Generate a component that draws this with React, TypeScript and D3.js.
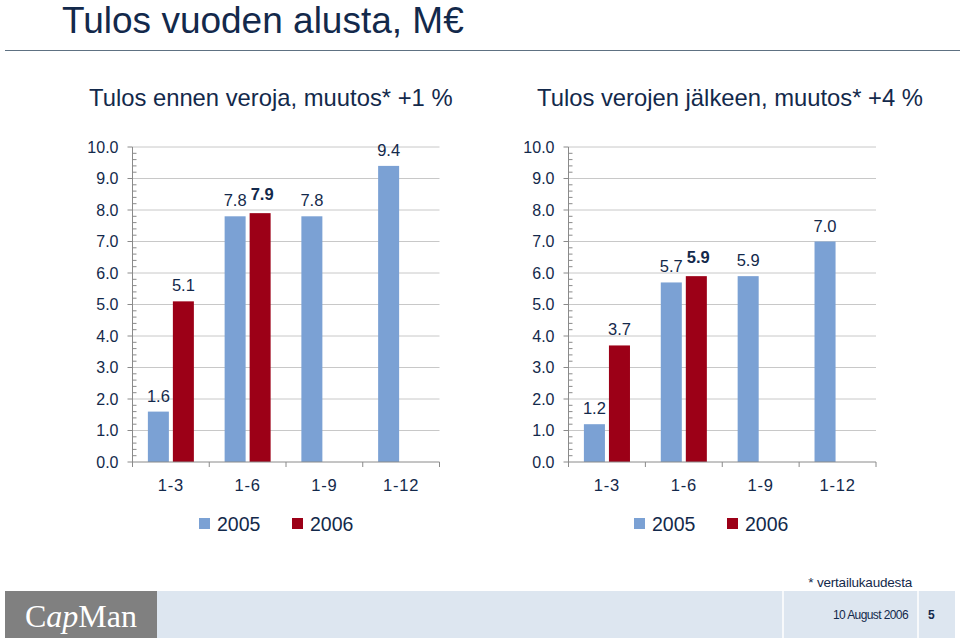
import React from "react";
import * as d3 from "d3";

const categories = ["1-3", "1-6", "1-9", "1-12"];
const seriesNames = ["2005", "2006"];
const leftValues2005 = [1.6, 7.8, 7.8, 9.4];
const leftValues2006: (number | null)[] = [5.1, 7.9, null, null];
const rightValues2005 = [1.2, 5.7, 5.9, 7.0];
const rightValues2006: (number | null)[] = [3.7, 5.9, null, null];
const boldLabelCategory = "1-6";
const yTicks = [0, 1, 2, 3, 4, 5, 6, 7, 8, 9, 10];
const titleText = "Tulos vuoden alusta, M€";
const leftSubtitle = "Tulos ennen veroja, muutos* +1 %";
const rightSubtitle = "Tulos verojen jälkeen, muutos* +4 %";

const FONT = "'Liberation Sans', Arial, Helvetica, sans-serif";
const NAVY = "#13294b";
const BLUE = "#7ba1d4";
const RED = "#9c0017";
const GRID = "#c8c8c8";
const AXIS = "#8a8a8a";

function Panel({ x0, x1, v2005, v2006 }: { x0: number; x1: number; v2005: (number | null)[]; v2006: (number | null)[] }) {
  const y = d3.scaleLinear().domain([0, 10]).range([462, 147]);
  const x = d3.scaleBand().domain(categories).range([x0, x1]).paddingInner(0).paddingOuter(0);
  const bw = x.bandwidth();
  const inner = d3.scaleBand().domain(seriesNames).range([0, bw]).paddingInner(0.16).paddingOuter(0.615);
  const minor = d3.range(0, 10.001, 0.2).filter((v) => Math.abs(v - Math.round(v)) > 1e-6);
  const series = [
    { name: "2005", values: v2005, color: BLUE },
    { name: "2006", values: v2006, color: RED },
  ];
  return (
    <g>
      {yTicks.filter((t) => t > 0).map((t) => (
        <line key={"g" + t} x1={x0} x2={x1} y1={y(t)} y2={y(t)} stroke={GRID} strokeWidth={1} />
      ))}
      {series.map((s) =>
        s.values.map((v, i) =>
          v == null ? null : (
            <rect key={s.name + i} x={(x(categories[i]) as number) + (inner(s.name) as number)} y={y(v)} width={inner.bandwidth()} height={y(0) - y(v)} fill={s.color} />
          )
        )
      )}
      <line x1={x0} x2={x0} y1={y(0)} y2={y(10)} stroke={AXIS} strokeWidth={1} />
      {yTicks.map((t) => (
        <g key={"t" + t}>
          <line x1={x0 - 5} x2={x0} y1={y(t)} y2={y(t)} stroke={AXIS} />
          <text x={x0 - 14} y={y(t)} dy="0.36em" textAnchor="end" fontSize={16} fill={NAVY} fontFamily={FONT}>
            {t.toFixed(1)}
          </text>
        </g>
      ))}
      {minor.map((t, i) => (
        <line key={"m" + i} x1={x0} x2={x0 + 4} y1={y(t)} y2={y(t)} stroke={AXIS} />
      ))}
      <line x1={x0} x2={x1} y1={y(0)} y2={y(0)} stroke={AXIS} />
      {[...categories.map((c) => x(c) as number), x1].map((px, i) => (
        <line key={"xt" + i} x1={px} x2={px} y1={y(0)} y2={y(0) + 5} stroke={AXIS} />
      ))}
      {categories.map((c) => (
        <text key={"xl" + c} x={(x(c) as number) + bw / 2} y={491} textAnchor="middle" fontSize={16.5} fill={NAVY} fontFamily={FONT} letterSpacing={0.8}>
          {c}
        </text>
      ))}
      {series.map((s) =>
        s.values.map((v, i) => {
          if (v == null) return null;
          const bold = s.name === "2006" && categories[i] === boldLabelCategory;
          return (
            <text key={"l" + s.name + i} x={(x(categories[i]) as number) + (inner(s.name) as number) + inner.bandwidth() / 2 + (bold ? 2 : 0)} y={y(v) - (bold ? 13 : 10)} textAnchor="middle" fontSize={16.5} fontWeight={bold ? "bold" : "normal"} fill={NAVY} fontFamily={FONT}>
              {v.toFixed(1)}
            </text>
          );
        })
      )}
    </g>
  );
}

function Legend({ x }: { x: number }) {
  const colors = [BLUE, RED];
  return (
    <g>
      {seriesNames.map((s, i) => (
        <g key={s} transform={`translate(${x + i * 93},0)`}>
          <rect x={0} y={518} width={11} height={11} fill={colors[i]} />
          <text x={18} y={531} fontSize={19.5} fill={NAVY} fontFamily={FONT}>
            {s}
          </text>
        </g>
      ))}
    </g>
  );
}

export default function App() {
  return (
    <svg width={960} height={640} style={{ position: "absolute", left: 0, top: 0, background: "#fff" }}>
      <rect x={0} y={0} width={960} height={640} fill="#fff" />
      <text x={62} y={33} fontSize={37} fill={NAVY} fontFamily={FONT}>
        {titleText}
      </text>
      <line x1={5} x2={960} y1={50.5} y2={50.5} stroke="#5e7182" strokeWidth={1.2} />
      <text x={89} y={106} fontSize={23.8} fill={NAVY} fontFamily={FONT}>
        {leftSubtitle}
      </text>
      <text x={537} y={106} fontSize={23.8} fill={NAVY} fontFamily={FONT}>
        {rightSubtitle}
      </text>
      <Panel x0={132.5} x1={439.5} v2005={leftValues2005} v2006={leftValues2006} />
      <Panel x0={568.5} x1={876} v2005={rightValues2005} v2006={rightValues2006} />
      <Legend x={199} />
      <Legend x={634} />
      <text x={912} y={587} textAnchor="end" fontSize={13.5} fill={NAVY} fontFamily={FONT} letterSpacing={-0.2}>
        * vertailukaudesta
      </text>
      <rect x={5} y={591} width={950} height={47} fill="#dde6f0" />
      <rect x={5} y={591} width={152} height={47} fill="#808080" />
      <line x1={783} x2={783} y1={591} y2={638} stroke="#fff" strokeWidth={1.5} />
      <line x1={918} x2={918} y1={591} y2={638} stroke="#fff" strokeWidth={1.5} />
      <text x={25} y={627} fontSize={32} fill="#fff" fontFamily="'Liberation Serif', 'Times New Roman', serif">
        C<tspan fontStyle="italic">ap</tspan>Man
      </text>
      <text x={908} y={619} textAnchor="end" fontSize={12} fill={NAVY} fontFamily={FONT} letterSpacing={-0.6}>
        10 August 2006
      </text>
      <text x={928} y={619} fontSize={12} fontWeight="bold" fill={NAVY} fontFamily={FONT}>
        5
      </text>
    </svg>
  );
}
